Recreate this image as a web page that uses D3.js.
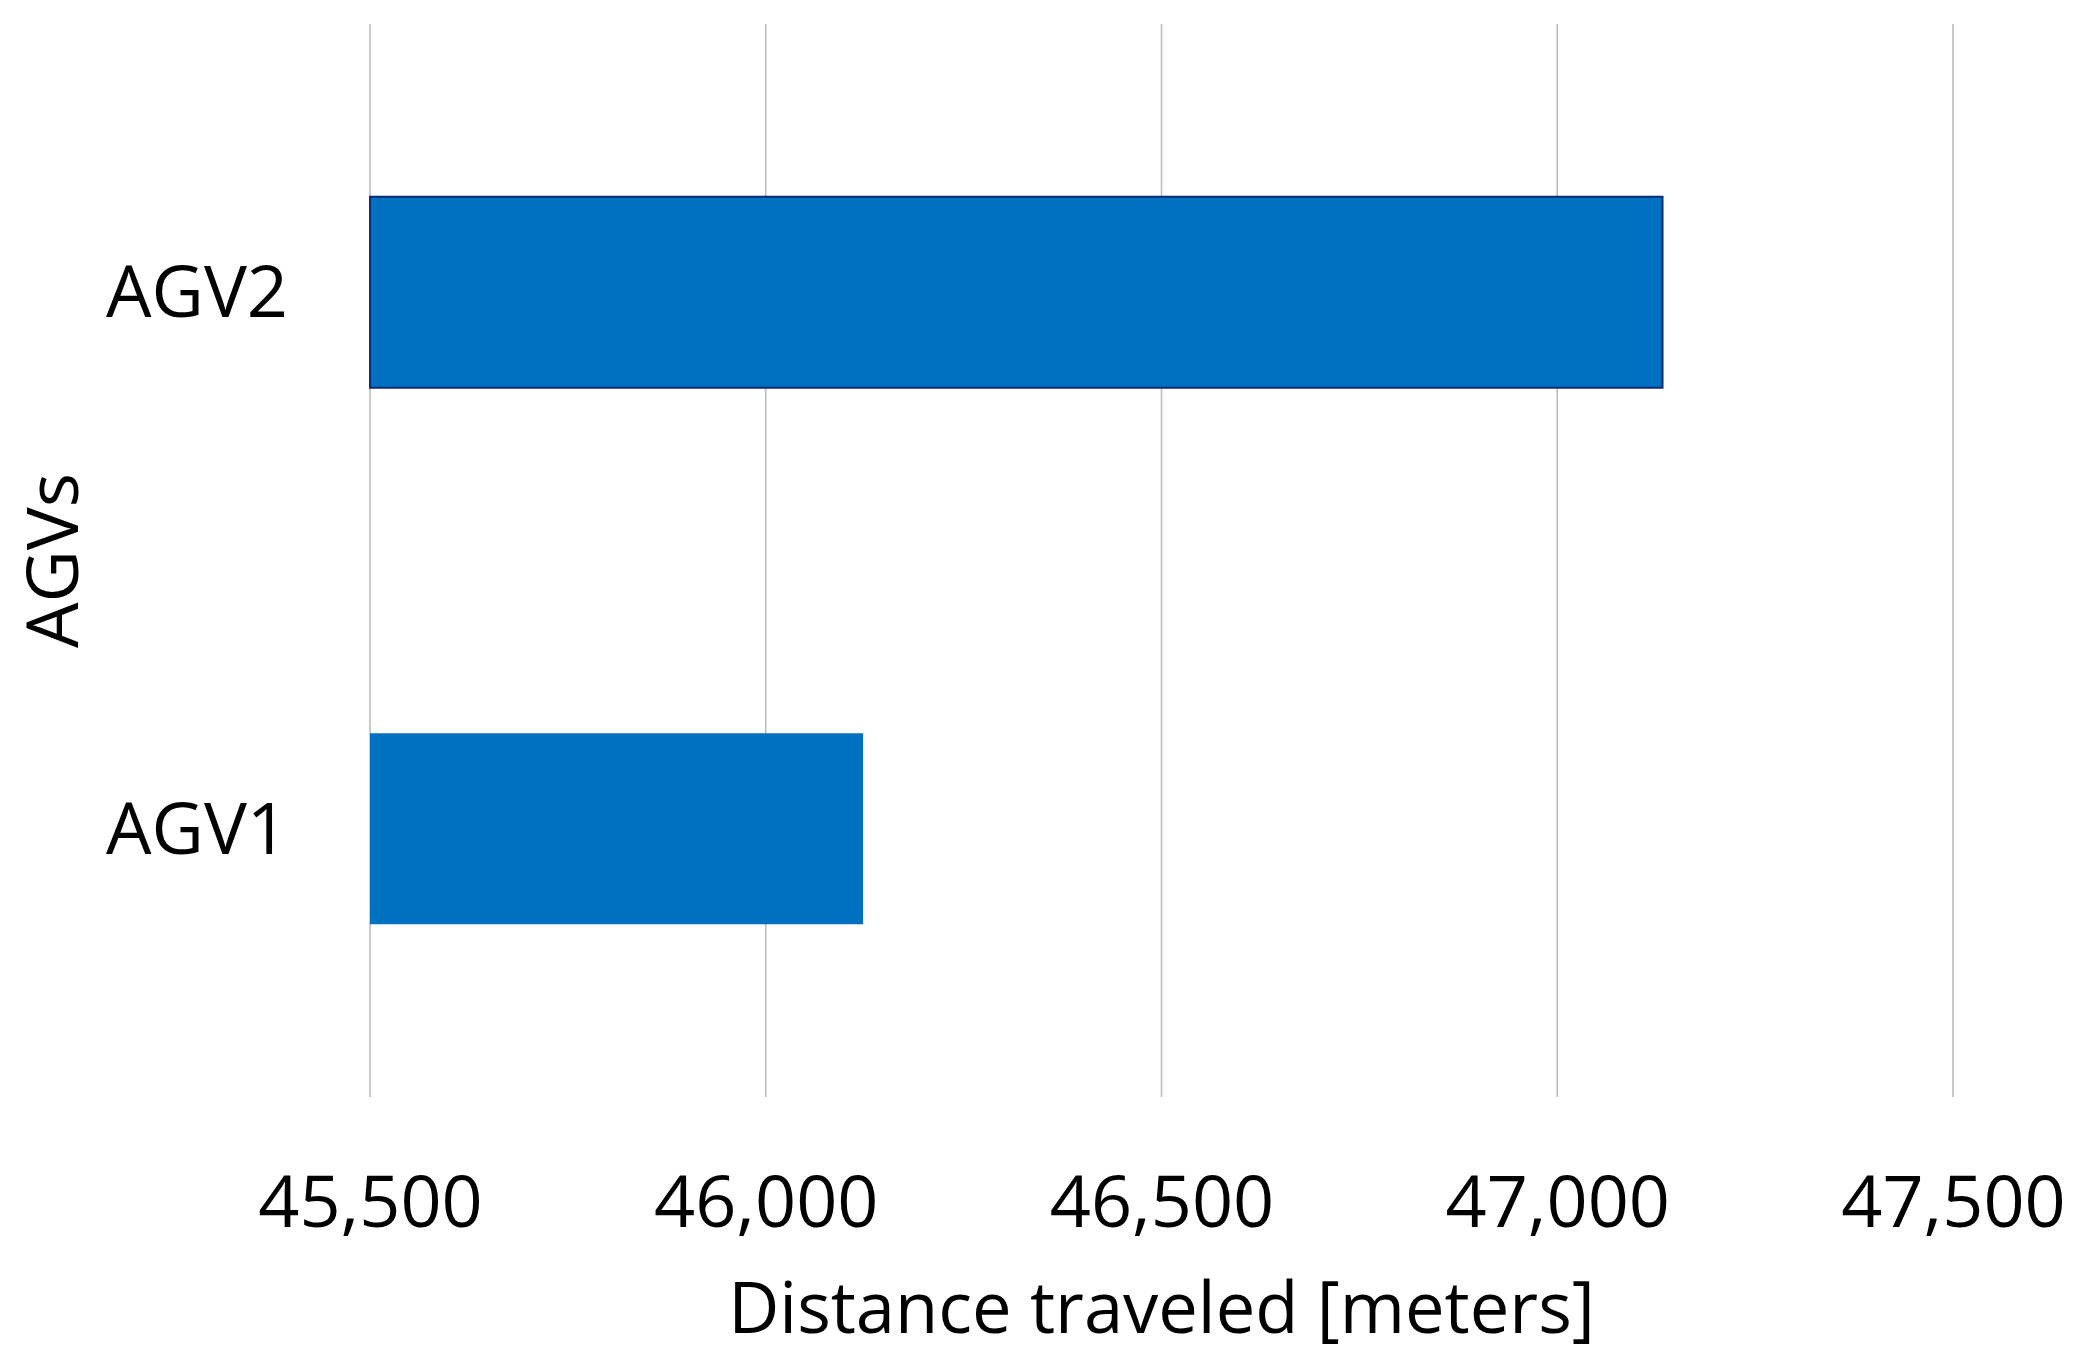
<!DOCTYPE html>
<html>
<head>
<meta charset="utf-8">
<script src="https://cdn.jsdelivr.net/npm/d3@7"></script>
<style>
  html, body { margin: 0; padding: 0; background: #ffffff; }
  svg { display: block; }
  text { font-family: "Open Sans", "Noto Sans", sans-serif; fill: #000; }
</style>
</head>
<body>
<svg id="chart" width="2084" height="1364"></svg>
<script>
// ---- data ----
const categories = ["AGV2", "AGV1"];
const distances = [47133, 46123];
const xTicks = [45500, 46000, 46500, 47000, 47500];
const xDomain = [45500, 47500];
const xTitle = "Distance traveled [meters]";
const yTitle = "AGVs";

// ---- layout ----
const W = 2084, H = 1364;
const margin = { top: 24, right: 131, bottom: 267, left: 370 };
const iw = W - margin.left - margin.right;
const ih = H - margin.top - margin.bottom;
const fontSize = 72;

const svg = d3.select("#chart");
const g = svg.append("g").attr("transform", `translate(${margin.left},${margin.top})`);

const x = d3.scaleLinear().domain(xDomain).range([0, iw]);
const y = d3.scaleBand().domain(categories).range([0, ih]).paddingInner(0.644).paddingOuter(0.322);

// gridlines
g.append("g").selectAll("line").data(xTicks).join("line")
  .attr("x1", d => x(d)).attr("x2", d => x(d))
  .attr("y1", 0).attr("y2", ih)
  .attr("stroke", "#bdbdbd").attr("stroke-width", 1.6);

// x axis labels
const xAxis = d3.axisBottom(x).tickValues(xTicks).tickFormat(d3.format(",")).tickSize(0).tickPadding(0);
const xg = g.append("g").attr("transform", `translate(0,${ih})`).call(xAxis);
xg.select(".domain").remove();
xg.selectAll("text").attr("font-size", fontSize).attr("dy", null).attr("y", 130)
  .attr("font-family", '"Open Sans", sans-serif').attr("fill", "#000");

// y axis labels
const yAxis = d3.axisLeft(y).tickSize(0).tickPadding(0);
const yg = g.append("g").call(yAxis);
yg.select(".domain").remove();
yg.selectAll("text").attr("font-size", fontSize).attr("x", -82).attr("dy", "0.35em")
  .attr("font-family", '"Open Sans", sans-serif').attr("fill", "#000");

// bars
const data = categories.map((c, i) => ({ name: c, value: distances[i] }));
g.append("g").selectAll("rect").data(data).join("rect")
  .attr("x", x(xDomain[0]))
  .attr("y", d => y(d.name))
  .attr("width", d => x(d.value) - x(xDomain[0]))
  .attr("height", y.bandwidth())
  .attr("fill", "#0070c0")
  .attr("stroke", d => d.name === "AGV2" ? "#0b2a78" : "none")
  .attr("stroke-width", 2);

// axis titles
svg.append("text")
  .attr("x", margin.left + iw / 2).attr("y", 1333)
  .attr("text-anchor", "middle").attr("font-size", 70.5)
  .text(xTitle);

svg.append("text")
  .attr("transform", `translate(78,${margin.top + ih / 2}) rotate(-90)`)
  .attr("text-anchor", "middle").attr("font-size", fontSize)
  .text(yTitle);
</script>
</body>
</html>
